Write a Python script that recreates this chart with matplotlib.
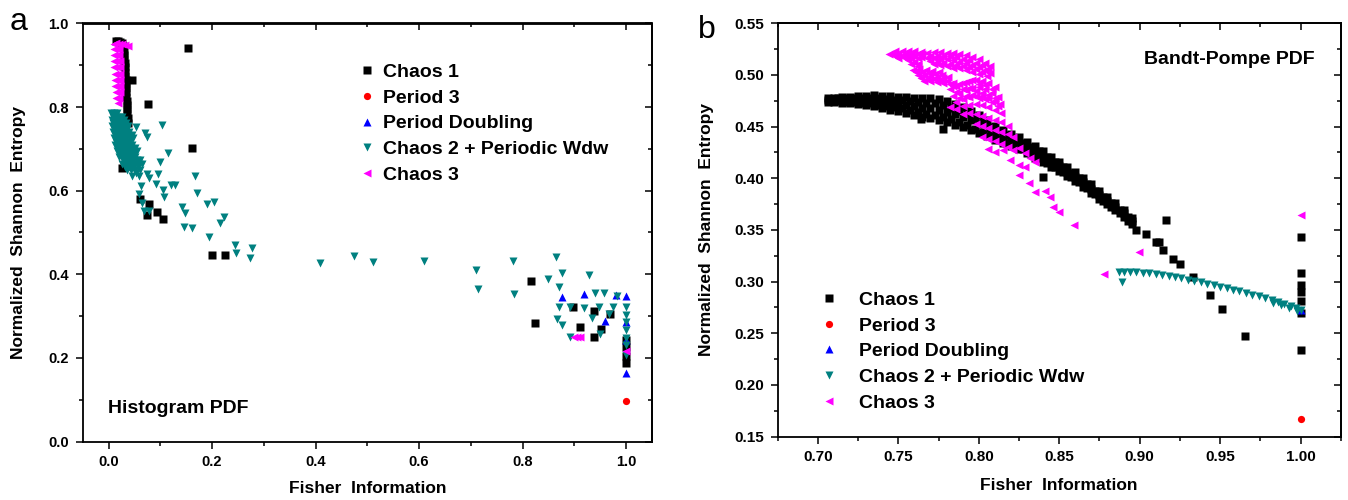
import matplotlib
matplotlib.use("Agg")
import matplotlib.pyplot as plt
from matplotlib.ticker import MultipleLocator

plt.rcParams['font.family'] = ['Liberation Sans', 'DejaVu Sans']
plt.rcParams['font.weight'] = 'bold'

# === Panel a : Histogram PDF ===
a_chaos1_x = [0.014, 0.018, 0.022, 0.026, 0.028, 0.029, 0.030, 0.030, 0.031, 0.031, 0.032, 0.032,
              0.033, 0.033, 0.033, 0.034, 0.034, 0.035, 0.035, 0.036, 0.036, 0.037, 0.037,
              0.153, 0.046, 0.077, 0.161, 0.026, 0.061, 0.078, 0.093, 0.074, 0.105, 0.200, 0.225,
              0.817, 0.823, 0.897, 0.938, 0.911, 0.951, 0.938, 0.969, 1.0, 1.0, 1.0, 1.0]
a_chaos1_y = [0.957, 0.957, 0.956, 0.953, 0.945, 0.935, 0.925, 0.915, 0.905, 0.895, 0.885, 0.875,
              0.865, 0.855, 0.845, 0.835, 0.825, 0.815, 0.805, 0.795, 0.785, 0.775, 0.762,
              0.941, 0.866, 0.807, 0.701, 0.654, 0.579, 0.567, 0.550, 0.543, 0.532, 0.445, 0.445,
              0.384, 0.283, 0.3225, 0.312, 0.273, 0.270, 0.249, 0.305, 0.243, 0.225, 0.205, 0.187]

a_period3_x = [1.0]
a_period3_y = [0.098]

a_pdoub_x = [0.876, 0.918, 0.981, 1.0, 0.960, 1.0, 1.0, 1.0]
a_pdoub_y = [0.346, 0.352, 0.350, 0.349, 0.289, 0.287, 0.163, 0.242]

# dense Chaos 2 cluster near the top left
a_chaos2_dense_x = [0.005, 0.011, 0.017,
                    0.008, 0.014, 0.020, 0.027,
                    0.006, 0.012, 0.018, 0.024, 0.030,
                    0.009, 0.015, 0.021, 0.028, 0.034,
                    0.007, 0.013, 0.019, 0.025, 0.031, 0.037,
                    0.010, 0.016, 0.022, 0.029, 0.035,
                    0.008, 0.014, 0.020, 0.026, 0.032, 0.040,
                    0.012, 0.018, 0.024, 0.030, 0.037, 0.045,
                    0.010, 0.016, 0.022, 0.028, 0.034, 0.042, 0.048,
                    0.014, 0.020, 0.027, 0.034, 0.041,
                    0.013, 0.019, 0.025, 0.031, 0.037, 0.045,
                    0.018, 0.025, 0.031, 0.038, 0.044, 0.051,
                    0.016, 0.022, 0.028, 0.034, 0.040, 0.047, 0.055,
                    0.022, 0.029, 0.035, 0.041, 0.049,
                    0.020, 0.026, 0.032, 0.038, 0.044, 0.052,
                    0.028, 0.035, 0.041, 0.047, 0.055, 0.061,
                    0.026, 0.032, 0.038, 0.044, 0.050, 0.058, 0.064,
                    0.032, 0.040, 0.048, 0.056,
                    0.036, 0.044, 0.052, 0.060,
                    0.045, 0.058]
a_chaos2_dense_y = [0.785, 0.785, 0.785,
                    0.7775, 0.7775, 0.7775, 0.7775,
                    0.770, 0.770, 0.770, 0.770, 0.770,
                    0.7625, 0.7625, 0.7625, 0.7625, 0.7625,
                    0.755, 0.755, 0.755, 0.755, 0.755, 0.755,
                    0.7475, 0.7475, 0.7475, 0.7475, 0.7475,
                    0.740, 0.740, 0.740, 0.740, 0.740, 0.740,
                    0.7325, 0.7325, 0.7325, 0.7325, 0.7325, 0.7325,
                    0.725, 0.725, 0.725, 0.725, 0.725, 0.725, 0.725,
                    0.7175, 0.7175, 0.7175, 0.7175, 0.7175,
                    0.710, 0.710, 0.710, 0.710, 0.710, 0.710,
                    0.7025, 0.7025, 0.7025, 0.7025, 0.7025, 0.7025,
                    0.695, 0.695, 0.695, 0.695, 0.695, 0.695, 0.695,
                    0.6875, 0.6875, 0.6875, 0.6875, 0.6875,
                    0.680, 0.680, 0.680, 0.680, 0.680, 0.680,
                    0.6725, 0.6725, 0.6725, 0.6725, 0.6725, 0.6725,
                    0.665, 0.665, 0.665, 0.665, 0.665, 0.665, 0.665,
                    0.6575, 0.6575, 0.6575, 0.6575,
                    0.650, 0.650, 0.650, 0.650,
                    0.635, 0.635]
a_chaos2_x = [0.054, 0.070, 0.074, 0.103, 0.114, 0.099, 0.095, 0.074, 0.078, 0.091, 0.106, 0.120,
              0.128, 0.108, 0.167, 0.170, 0.141, 0.147, 0.190, 0.203, 0.223, 0.215, 0.146, 0.162,
              0.194, 0.244, 0.278, 0.246, 0.273, 0.408, 0.475, 0.510, 0.610, 0.709, 0.714, 0.782,
              0.784, 0.063, 0.059, 0.065, 0.068, 0.078, 0.054, 0.048,
              0.865, 0.876, 0.849, 0.928, 0.871, 0.939, 0.958, 0.982, 0.871, 0.891, 0.918, 0.947,
              0.974, 1.0, 0.967, 0.934, 0.867, 0.876, 0.891, 0.949, 1.0, 1.0, 1.0, 1.0, 1.0, 1.0]
a_chaos2_y = [0.752, 0.739, 0.728, 0.757, 0.689, 0.669, 0.640, 0.640, 0.630, 0.616, 0.602, 0.614,
              0.614, 0.586, 0.635, 0.595, 0.562, 0.547, 0.568, 0.573, 0.536, 0.522, 0.514, 0.510,
              0.490, 0.470, 0.464, 0.452, 0.440, 0.426, 0.444, 0.430, 0.432, 0.411, 0.365, 0.432,
              0.353, 0.612, 0.592, 0.571, 0.552, 0.552, 0.642, 0.657,
              0.442, 0.402, 0.389, 0.399, 0.369, 0.356, 0.356, 0.348, 0.322, 0.321, 0.319, 0.322,
              0.322, 0.322, 0.305, 0.295, 0.294, 0.279, 0.251, 0.257, 0.302, 0.286, 0.267, 0.248, 0.231, 0.207]

a_chaos3_x = [0.010, 0.015, 0.020, 0.026, 0.032, 0.037,
              0.010, 0.016, 0.021, 0.010, 0.016, 0.021, 0.011, 0.017, 0.022,
              0.011, 0.017, 0.022, 0.012, 0.018, 0.022, 0.012, 0.018, 0.023,
              0.013, 0.018, 0.023, 0.014, 0.019, 0.023, 0.015, 0.020, 0.018,
              0.899, 0.905, 0.911, 1.0]
a_chaos3_y = [0.952, 0.953, 0.952, 0.950, 0.948, 0.946,
              0.940, 0.940, 0.940, 0.925, 0.925, 0.925, 0.910, 0.910, 0.910,
              0.895, 0.895, 0.895, 0.880, 0.880, 0.880, 0.865, 0.865, 0.865,
              0.850, 0.850, 0.850, 0.835, 0.835, 0.835, 0.822, 0.822, 0.810,
              0.251, 0.251, 0.251, 0.217]

# === Panel b : Bandt-Pompe PDF ===
# dense Chaos 1 band: x with top / middle / bottom edge
b_band_x = [0.706, 0.710, 0.715, 0.720, 0.725, 0.730, 0.735, 0.740, 0.745, 0.750, 0.755, 0.760,
            0.765, 0.770, 0.775, 0.780, 0.785, 0.790, 0.795, 0.800, 0.805, 0.810, 0.815, 0.820,
            0.825, 0.830, 0.835, 0.840, 0.845, 0.850, 0.855, 0.860, 0.865, 0.870, 0.875, 0.880,
            0.885, 0.890, 0.895]
b_band_top = [0.478, 0.478, 0.479, 0.479, 0.480, 0.480, 0.481, 0.480, 0.480, 0.479, 0.479, 0.478,
              0.478, 0.478, 0.477, 0.475, 0.472, 0.469, 0.465, 0.461, 0.456, 0.451, 0.447, 0.443,
              0.440, 0.435, 0.431, 0.426, 0.421, 0.416, 0.411, 0.406, 0.400, 0.394, 0.388, 0.382,
              0.376, 0.369, 0.362]
b_band_mid = [0.476, 0.476, 0.476, 0.476, 0.476, 0.4755, 0.4755, 0.474, 0.473, 0.472, 0.471, 0.4695,
              0.4685, 0.468, 0.4665, 0.4645, 0.462, 0.4595, 0.456, 0.4525, 0.4485, 0.444, 0.4405, 0.437,
              0.434, 0.4295, 0.4255, 0.421, 0.416, 0.4115, 0.4065, 0.4015, 0.396, 0.390, 0.384, 0.3785,
              0.3725, 0.366, 0.359]
b_band_bot = [0.474, 0.474, 0.473, 0.473, 0.472, 0.471, 0.470, 0.468, 0.466, 0.465, 0.463, 0.461,
              0.459, 0.458, 0.456, 0.454, 0.452, 0.450, 0.447, 0.444, 0.441, 0.437, 0.434, 0.431,
              0.428, 0.424, 0.420, 0.416, 0.411, 0.407, 0.402, 0.397, 0.392, 0.386, 0.380, 0.375,
              0.369, 0.363, 0.356]
# second, staggered pass through the same band
b_band2_x = [0.708, 0.7125, 0.7175, 0.7225, 0.7275, 0.7325, 0.7375, 0.7425, 0.7475, 0.7525, 0.7575,
             0.7625, 0.7675, 0.7725, 0.7775, 0.7825, 0.7875, 0.7925, 0.7975, 0.8025, 0.8075, 0.8125,
             0.8175, 0.8225, 0.8275, 0.8325, 0.8375, 0.8425, 0.8475, 0.8525, 0.8575, 0.8625, 0.8675,
             0.8725, 0.8775, 0.8825, 0.8875, 0.8925]
b_band2_up = [0.477, 0.4775, 0.478, 0.478, 0.478, 0.478, 0.478, 0.477, 0.476, 0.4755, 0.4745,
              0.4735, 0.473, 0.4725, 0.4705, 0.468, 0.465, 0.462, 0.4585, 0.454, 0.4495, 0.4455,
              0.442, 0.4385, 0.4345, 0.4305, 0.426, 0.4205, 0.4155, 0.4105, 0.4055, 0.400, 0.394,
              0.388, 0.382, 0.376, 0.3695, 0.3625]
b_band2_lo = [0.475, 0.4745, 0.474, 0.474, 0.473, 0.4725, 0.471, 0.470, 0.469, 0.468, 0.466,
              0.464, 0.4625, 0.461, 0.4595, 0.457, 0.454, 0.4515, 0.448, 0.445, 0.4415, 0.438,
              0.4345, 0.4315, 0.428, 0.424, 0.420, 0.415, 0.4105, 0.406, 0.401, 0.396, 0.3905,
              0.3845, 0.3785, 0.3725, 0.366, 0.359]
b_chaos1_x = [0.764, 0.778, 0.840, 0.9166, 0.898, 0.904, 0.910, 0.912, 0.9145, 0.921, 0.925, 0.933,
              0.944, 0.951, 0.9657, 1.0, 1.0, 1.0, 1.0, 1.0, 1.0, 1.0]
b_chaos1_y = [0.457, 0.448, 0.401, 0.360, 0.350, 0.346, 0.338, 0.338, 0.331, 0.3216, 0.317, 0.304,
              0.287, 0.2735, 0.2477, 0.343, 0.308, 0.297, 0.290, 0.281, 0.270, 0.234]

b_period3_x = [1.0]
b_period3_y = [0.1668]

b_pdoub_x = [1.0]
b_pdoub_y = [0.2725]

b_chaos2_x = [0.887, 0.890, 0.894, 0.898, 0.902, 0.906, 0.910, 0.914, 0.918, 0.922, 0.926, 0.930,
              0.934, 0.938, 0.942, 0.946, 0.950, 0.954, 0.958, 0.962, 0.966, 0.970, 0.974, 0.978,
              0.982, 0.986, 0.990, 0.994, 0.997, 1.000,
              0.983, 0.988, 0.993, 0.998, 0.889]
b_chaos2_y = [0.3095, 0.3097, 0.3095, 0.3092, 0.3088, 0.3082, 0.3075, 0.3066, 0.3056, 0.3045, 0.3033, 0.3020,
              0.3007, 0.2994, 0.2980, 0.2965, 0.2950, 0.2935, 0.2920, 0.2905, 0.2890, 0.2873, 0.2857, 0.2840,
              0.2822, 0.2803, 0.2785, 0.2765, 0.2748, 0.2728,
              0.2795, 0.2770, 0.2745, 0.2715, 0.300]

b_chaos3_x = [0.744, 0.748, 0.752, 0.756, 0.760, 0.764, 0.748, 0.752, 0.756, 0.760, 0.764, 0.756, 0.760, 0.762,
              0.746, 0.750, 0.754, 0.758, 0.762, 0.765, 0.750, 0.754, 0.758, 0.762, 0.758, 0.762,
              0.768, 0.772, 0.776, 0.780, 0.784, 0.788, 0.792, 0.796, 0.800, 0.804, 0.807,
              0.770, 0.774, 0.778, 0.782, 0.786, 0.790, 0.794, 0.798, 0.802, 0.806,
              0.768, 0.772, 0.776, 0.780, 0.784, 0.788, 0.792, 0.796, 0.800, 0.804, 0.807,
              0.770, 0.774, 0.778, 0.782, 0.786, 0.790, 0.794, 0.798, 0.802,
              0.772, 0.776, 0.780, 0.784, 0.788, 0.792, 0.796, 0.800, 0.805,
              0.759, 0.763, 0.767, 0.771, 0.775, 0.761, 0.765, 0.769, 0.773, 0.777, 0.781,
              0.762, 0.766, 0.770, 0.774, 0.778, 0.764, 0.768, 0.772, 0.776, 0.780, 0.784,
              0.766, 0.770, 0.774, 0.778, 0.782,
              0.782, 0.786, 0.790, 0.794, 0.798, 0.802, 0.806, 0.810,
              0.784, 0.788, 0.792, 0.796, 0.800, 0.804, 0.808,
              0.784, 0.788, 0.792, 0.796, 0.800, 0.804, 0.808, 0.812,
              0.786, 0.790, 0.794, 0.798, 0.802, 0.806, 0.810,
              0.786, 0.790, 0.794, 0.798, 0.802, 0.806, 0.810, 0.813,
              0.788, 0.792, 0.796, 0.800, 0.804, 0.808, 0.812,
              0.782, 0.786, 0.790, 0.794, 0.798, 0.802, 0.806, 0.810, 0.814,
              0.790, 0.794, 0.798, 0.802, 0.806, 0.810, 0.814, 0.818,
              0.798, 0.802, 0.806, 0.810, 0.814, 0.818, 0.821,
              0.802, 0.806, 0.810, 0.814, 0.818, 0.821, 0.825, 0.829, 0.832, 0.835,
              0.806, 0.810, 0.8153, 0.8195, 0.825, 0.829, 0.825, 0.831, 0.835, 0.841, 0.8445,
              0.846, 0.850, 0.859, 0.8996, 0.878, 1.0]
b_chaos3_y = [0.520, 0.523, 0.523, 0.523, 0.523, 0.522, 0.518, 0.518, 0.518, 0.518, 0.517, 0.514, 0.513, 0.509,
              0.5205, 0.5205, 0.5205, 0.5205, 0.5205, 0.5205, 0.516, 0.516, 0.516, 0.516, 0.511, 0.511,
              0.521, 0.522, 0.522, 0.521, 0.521, 0.520, 0.519, 0.517, 0.515, 0.512, 0.509,
              0.5185, 0.5185, 0.518, 0.518, 0.517, 0.5155, 0.514, 0.512, 0.510, 0.506,
              0.516, 0.516, 0.515, 0.515, 0.514, 0.513, 0.512, 0.510, 0.508, 0.505, 0.502,
              0.5135, 0.513, 0.512, 0.511, 0.510, 0.509, 0.5075, 0.5055, 0.503,
              0.511, 0.510, 0.509, 0.507, 0.507, 0.505, 0.503, 0.501, 0.499,
              0.505, 0.506, 0.505, 0.504, 0.503, 0.5025, 0.503, 0.502, 0.501, 0.500, 0.498,
              0.500, 0.500, 0.499, 0.498, 0.497, 0.497, 0.4965, 0.496, 0.495, 0.494, 0.4925,
              0.494, 0.494, 0.493, 0.492, 0.491,
              0.486, 0.489, 0.492, 0.494, 0.495, 0.494, 0.492, 0.488,
              0.489, 0.4915, 0.4935, 0.495, 0.4915, 0.490, 0.4865,
              0.480, 0.483, 0.485, 0.487, 0.488, 0.486, 0.483, 0.479,
              0.4835, 0.486, 0.4875, 0.4845, 0.483, 0.481, 0.478,
              0.474, 0.477, 0.479, 0.480, 0.480, 0.478, 0.475, 0.472,
              0.4775, 0.480, 0.4805, 0.4775, 0.477, 0.4735, 0.470,
              0.469, 0.467, 0.470, 0.471, 0.472, 0.471, 0.469, 0.466, 0.463,
              0.462, 0.463, 0.462, 0.460, 0.458, 0.456, 0.454, 0.451,
              0.453, 0.451, 0.449, 0.447, 0.445, 0.443, 0.440,
              0.440, 0.438, 0.436, 0.433, 0.430, 0.427, 0.429, 0.424, 0.420, 0.416,
              0.428, 0.425, 0.4275, 0.418, 0.413, 0.411, 0.403, 0.395, 0.387, 0.388, 0.382,
              0.3726, 0.3677, 0.355, 0.3287, 0.307, 0.3645]

labels = ["Chaos 1", "Period 3", "Period Doubling", "Chaos 2 + Periodic Wdw", "Chaos 3"]
colors = ["black", "#ff0000", "#0000ff", "#008080", "#ff00ff"]
markers = ["s", "o", "^", "v", "<"]
sizes = [5.2, 5.2, 6.0, 6.0, 6.0]


def style_axis(ax, xmaj, ymaj, xlim, ylim, fmt_x, fmt_y, tsize):
    ax.set_xlim(*xlim)
    ax.set_ylim(*ylim)
    ax.xaxis.set_major_locator(MultipleLocator(xmaj))
    ax.xaxis.set_minor_locator(MultipleLocator(xmaj / 2))
    ax.yaxis.set_major_locator(MultipleLocator(ymaj))
    ax.yaxis.set_minor_locator(MultipleLocator(ymaj / 2))
    ax.xaxis.set_major_formatter(fmt_x)
    ax.yaxis.set_major_formatter(fmt_y)
    ax.tick_params(which='major', direction='out', length=5, width=1.1, labelsize=tsize, pad=5)
    ax.tick_params(which='minor', direction='out', length=2.8, width=1.1)
    for s in ax.spines.values():
        s.set_linewidth(1.3)
    # mirror ticks on top / right, pointing in
    top = ax.secondary_xaxis('top')
    top.xaxis.set_major_locator(MultipleLocator(xmaj))
    top.xaxis.set_minor_locator(MultipleLocator(xmaj / 2))
    top.tick_params(which='major', direction='in', length=5, width=1.1, labeltop=False)
    top.tick_params(which='minor', direction='in', length=2.8, width=1.1)
    right = ax.secondary_yaxis('right')
    right.yaxis.set_major_locator(MultipleLocator(ymaj))
    right.yaxis.set_minor_locator(MultipleLocator(ymaj / 2))
    right.tick_params(which='major', direction='in', length=5, width=1.1, labelright=False)
    right.tick_params(which='minor', direction='in', length=2.8, width=1.1)
    for sec in (top, right):
        for s in sec.spines.values():
            s.set_linewidth(1.3)


def draw_series(ax, data):
    for i, (xs, ys) in enumerate(data):
        ax.plot(xs, ys, ls='none', marker=markers[i], ms=sizes[i], color=colors[i], mec='none',
                label=labels[i])


fig = plt.figure(figsize=(13.48, 5.0), dpi=100)
ax_a = fig.add_axes([0.0613, 0.117, 0.4224, 0.836])
ax_b = fig.add_axes([0.5769, 0.1268, 0.4177, 0.8266])

legend_kw = dict(loc='upper left', frameon=False, borderpad=0, borderaxespad=0,
                 handlelength=0.8, labelspacing=0.42, prop={'weight': 'bold', 'size': 14})

# --- panel a ---
draw_series(ax_a, [(a_chaos1_x, a_chaos1_y), (a_period3_x, a_period3_y), (a_pdoub_x, a_pdoub_y),
                   (a_chaos2_dense_x + a_chaos2_x, a_chaos2_dense_y + a_chaos2_y),
                   (a_chaos3_x, a_chaos3_y)])
style_axis(ax_a, 0.2, 0.2, (-0.05, 1.05), (0.0, 1.0), '{x:.1f}', '{x:.1f}', 10.5)
ax_a.set_xlabel("Fisher  Information", fontsize=12.5, fontweight='bold')
ax_a.set_ylabel("Normalized  Shannon  Entropy", fontsize=12.5, fontweight='bold')
ax_a.xaxis.set_label_coords(0.5, -0.095)
ax_a.yaxis.set_label_coords(-0.10, 0.5)
ax_a.legend(bbox_to_anchor=(0.485, 0.905), handletextpad=0.45, **legend_kw)
ax_a.text(0.044, 0.080, "Histogram PDF", transform=ax_a.transAxes, ha='left', va='center',
          fontsize=14, fontweight='bold')

# --- panel b ---
b_all_x = b_band_x * 3 + b_band2_x * 2 + b_chaos1_x
b_all_y = b_band_top + b_band_mid + b_band_bot + b_band2_up + b_band2_lo + b_chaos1_y
draw_series(ax_b, [(b_all_x, b_all_y), (b_period3_x, b_period3_y), (b_pdoub_x, b_pdoub_y),
                   (b_chaos2_x, b_chaos2_y), (b_chaos3_x, b_chaos3_y)])
style_axis(ax_b, 0.05, 0.05, (0.675, 1.025), (0.15, 0.55), '{x:.2f}', '{x:.2f}', 11)
ax_b.set_xlabel("Fisher  Information", fontsize=12.5, fontweight='bold')
ax_b.set_ylabel("Normalized  Shannon  Entropy", fontsize=12.5, fontweight='bold')
ax_b.xaxis.set_label_coords(0.5, -0.10)
ax_b.yaxis.set_label_coords(-0.113, 0.5)
ax_b.legend(bbox_to_anchor=(0.0766, 0.352), handletextpad=1.15, **legend_kw)
ax_b.text(0.954, 0.912, "Bandt-Pompe PDF", transform=ax_b.transAxes, ha='right', va='center',
          fontsize=14, fontweight='bold')

# panel letters
fig.text(0.0135, 0.955, "a", fontsize=23, fontweight='normal', va='center', ha='center')
fig.text(0.5245, 0.94, "b", fontsize=23, fontweight='normal', va='center', ha='center')

fig.savefig("out.png", dpi=100)
